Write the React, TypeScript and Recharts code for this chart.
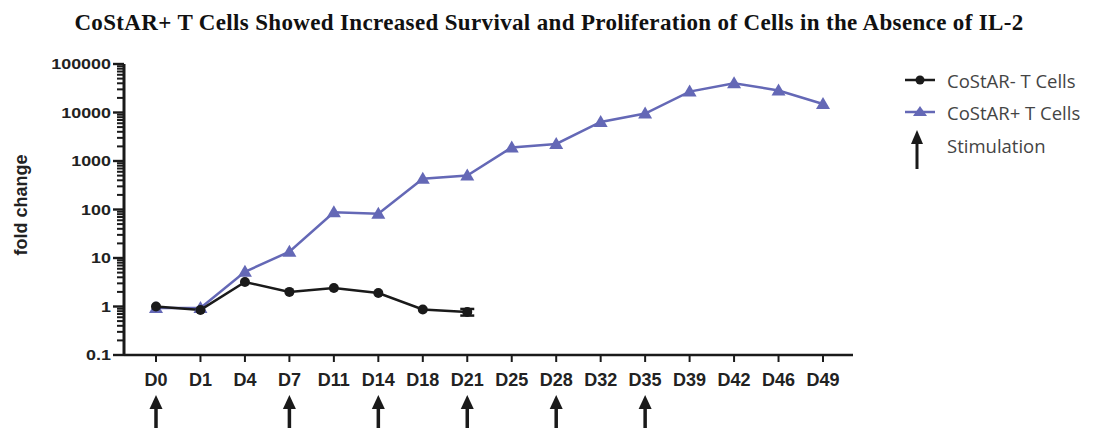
import { ComposedChart, Line, XAxis, YAxis, Legend, ErrorBar } from 'recharts';

const days = ['D0', 'D1', 'D4', 'D7', 'D11', 'D14', 'D18', 'D21', 'D25', 'D28', 'D32', 'D35', 'D39', 'D42', 'D46', 'D49'];
const costarNeg = [1.0, 0.85, 3.2, 2.0, 2.4, 1.9, 0.87, 0.77, null, null, null, null, null, null, null, null];
const costarNegErr = [0, 0, 0, 0, 0, 0, 0, 0.12, null, null, null, null, null, null, null, null];
const costarPos = [0.93, 0.93, 5.2, 13.5, 88, 82, 430, 500, 1900, 2250, 6400, 9500, 27000, 40000, 28500, 15000];
const stimulationDays = ['D0', 'D7', 'D14', 'D21', 'D28', 'D35'];

const yMajorTicks = [0.1, 1, 10, 100, 1000, 10000, 100000];
const yMinorSteps = [2, 3, 4, 5, 6, 7, 8, 9];

const BLUE = '#6468b6';
const INK = '#1a1a1a';

const CHART_W = 1098;
const CHART_H = 428;
const MARGIN_TOP = 64;
const X_AXIS_H = 73;
const PLOT_H = CHART_H - MARGIN_TOP - X_AXIS_H;

const data = days.map((day, i) => ({
  day,
  neg: costarNeg[i],
  negErr: costarNegErr[i],
  pos: costarPos[i],
}));

// major tick + label, plus the minor log ticks of the decade above it
const YTick = ({ x, y, payload }: any) => {
  const isTop = payload.value === yMajorTicks[yMajorTicks.length - 1];
  const decade = PLOT_H / (yMajorTicks.length - 1);
  return (
    <g>
      <line x1={x - 11} x2={x} y1={y} y2={y} stroke={INK} strokeWidth={2.4} />
      {!isTop &&
        yMinorSteps.map((s) => {
          const my = y - Math.log10(s) * decade;
          return <line key={s} x1={x - 7} x2={x} y1={my} y2={my} stroke={INK} strokeWidth={2} />;
        })}
      <text
        transform={`translate(${x - 13},${y + 5}) scale(1.28,1)`}
        textAnchor="end"
        fontFamily="'Liberation Sans', Arial, sans-serif"
        fontWeight="bold"
        fontSize={14}
        fill="#222"
      >
        {payload.value}
      </text>
    </g>
  );
};

const XTick = ({ x, y, payload }: any) => {
  const stim = stimulationDays.includes(payload.value);
  return (
    <g>
      <text
        x={x}
        y={y + 24}
        textAnchor="middle"
        fontFamily="'Liberation Sans', Arial, sans-serif"
        fontWeight="bold"
        fontSize={18}
        fill="#222"
      >
        {payload.value}
      </text>
      {stim && (
        <g>
          <polygon points={`${x},${y + 33} ${x - 6.5},${y + 47} ${x + 6.5},${y + 47}`} fill={INK} />
          <rect x={x - 1.75} y={y + 46} width={3.5} height={30} fill={INK} />
        </g>
      )}
    </g>
  );
};

const TriangleDot = ({ cx, cy }: any) => {
  if (cx == null || cy == null) return <g />;
  return <polygon points={`${cx},${cy - 7} ${cx - 7},${cy + 5} ${cx + 7},${cy + 5}`} fill={BLUE} />;
};

const YLabel = () => (
  <text
    transform="translate(27,205) rotate(-90)"
    textAnchor="middle"
    fontFamily="'Liberation Sans', Arial, sans-serif"
    fontWeight="bold"
    fontSize={18}
    fill="#222"
  >
    fold change
  </text>
);

const legendItems = [
  { label: 'CoStAR- T Cells', kind: 'circle' },
  { label: 'CoStAR+ T Cells', kind: 'triangle' },
  { label: 'Stimulation', kind: 'arrow' },
];

const LegendBox = () => (
  <div style={{ fontFamily: "'Open Sans', sans-serif", fontSize: 18.5, color: '#444' }}>
    {legendItems.map((item) => (
      <div key={item.label} style={{ display: 'flex', alignItems: 'center', height: item.kind === 'arrow' ? 42 : 32 }}>
        <svg width={52} height={item.kind === 'arrow' ? 42 : 20}>
          {item.kind === 'circle' && (
            <g>
              <line x1={10} x2={40} y1={10} y2={10} stroke={INK} strokeWidth={2.5} />
              <circle cx={25} cy={10} r={4.5} fill={INK} />
            </g>
          )}
          {item.kind === 'triangle' && (
            <g>
              <line x1={10} x2={40} y1={10} y2={10} stroke={BLUE} strokeWidth={2.5} />
              <polygon points="25,4 18,14 32,14" fill={BLUE} />
            </g>
          )}
          {item.kind === 'arrow' && (
            <g>
              <polygon points="22,2 16,16 28,16" fill={INK} />
              <rect x={20.5} y={15} width={3} height={26} fill={INK} />
            </g>
          )}
        </svg>
        <span style={{ marginTop: item.kind === 'arrow' ? -8 : 0 }}>{item.label}</span>
      </div>
    ))}
  </div>
);

export default function App() {
  return (
    <div style={{ position: 'absolute', left: 0, top: 0, width: CHART_W, height: CHART_H, background: '#fff' }}>
      <div
        style={{
          position: 'absolute',
          top: 10,
          left: 0,
          width: CHART_W,
          textAlign: 'center',
          fontFamily: "'Liberation Serif', 'Times New Roman', serif",
          fontWeight: 'bold',
          fontSize: 23,
          letterSpacing: 0.35,
          color: '#111',
        }}
      >
        CoStAR+ T Cells Showed Increased Survival and Proliferation of Cells in the Absence of IL-2
      </div>
      <ComposedChart width={CHART_W} height={CHART_H} data={data} margin={{ top: MARGIN_TOP, right: 245, left: 0, bottom: 0 }}>
        <XAxis
          dataKey="day"
          type="category"
          scale="point"
          padding={{ left: 32, right: 30 }}
          height={X_AXIS_H}
          axisLine={{ stroke: INK, strokeWidth: 2.5 }}
          tickLine={{ stroke: INK, strokeWidth: 2 }}
          tickSize={7}
          tickMargin={0}
          tick={<XTick />}
          interval={0}
        />
        <YAxis
          type="number"
          scale="log"
          domain={[0.1, 100000]}
          allowDataOverflow
          ticks={yMajorTicks}
          interval={0}
          width={124}
          axisLine={{ stroke: INK, strokeWidth: 3 }}
          tickLine={false}
          tickSize={0}
          tickMargin={0}
          tick={<YTick />}
          label={<YLabel />}
        />
        <Legend layout="vertical" align="center" verticalAlign="middle" content={<LegendBox />} wrapperStyle={{ left: 895, top: 64, width: 203 }} />
        <Line
          dataKey="pos"
          name="CoStAR+ T Cells"
          stroke={BLUE}
          strokeWidth={2.5}
          dot={<TriangleDot />}
          activeDot={false}
          isAnimationActive={false}
        />
        <Line
          dataKey="neg"
          name="CoStAR- T Cells"
          stroke={INK}
          strokeWidth={2.5}
          dot={{ r: 5, fill: INK, stroke: INK, strokeWidth: 0 }}
          activeDot={false}
          isAnimationActive={false}
        >
          <ErrorBar dataKey="negErr" direction="y" width={7} stroke={INK} strokeWidth={2.5} />
        </Line>
      </ComposedChart>
    </div>
  );
}
